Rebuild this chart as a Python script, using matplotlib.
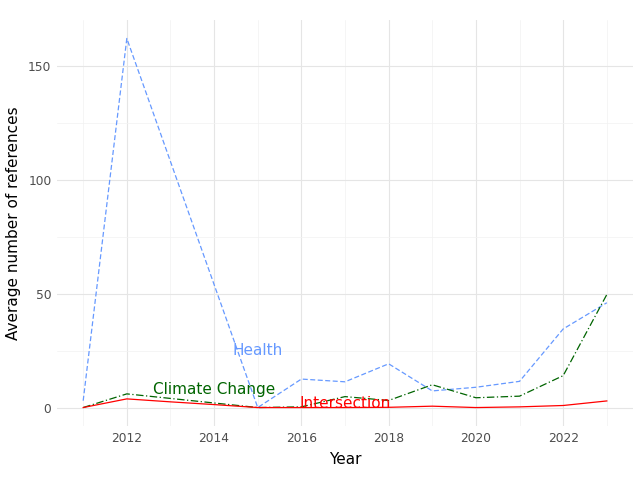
import matplotlib
matplotlib.use("Agg")
import matplotlib.pyplot as plt
from matplotlib.ticker import MultipleLocator

years = [2011, 2012, 2013, 2014, 2015, 2016, 2017, 2018, 2019, 2020, 2021, 2022, 2023]
health = [3.0, 162.0, 108.0, 54.0, 0.0, 12.5, 11.3, 19.2, 7.3, 8.9, 11.5, 34.5, 46.0]
climate = [0.0, 6.0, 4.0, 2.0, 0.0, 0.3, 4.8, 3.1, 10.0, 4.3, 5.0, 14.0, 49.6]
intersection = [0.0, 3.8, 2.5, 1.3, 0.0, 0.0, 0.0, 0.1, 0.6, 0.0, 0.3, 0.9, 2.9]

series_names = ["Health", "Climate Change", "Intersection"]
label_x = [2015.0, 2014.0, 2017.0]
label_y = [25.0, 7.9, 1.8]

colors = ["#6699ff", "#006400", "#ff0000"]
styles = [(0, (4, 2)), (0, (6, 2, 1, 2)), "-"]

fig = plt.figure(figsize=(6.4, 4.8), dpi=100)
ax = fig.add_axes([57/640, 1 - 426/480, (633-57)/640, (426-20)/480])

for vals, c, ls in zip([health, climate, intersection], colors, styles):
    ax.plot(years, vals, color=c, linestyle=ls, linewidth=0.9)

for name, x, y, c in zip(series_names, label_x, label_y, colors):
    ax.text(x, y, name, color=c, fontsize=11, ha="center", va="center")

ax.set_xlim(2010.4, 2023.6)
ax.set_ylim(-8.1, 170.1)
ax.xaxis.set_major_locator(MultipleLocator(2))
ax.xaxis.set_minor_locator(MultipleLocator(1))
ax.yaxis.set_major_locator(MultipleLocator(50))
ax.yaxis.set_minor_locator(MultipleLocator(25))
ax.grid(which="major", color="#e5e5e5", linewidth=0.8)
ax.grid(which="minor", color="#f2f2f2", linewidth=0.5)
ax.set_axisbelow(True)
for s in ax.spines.values():
    s.set_visible(False)
ax.tick_params(which="both", length=0, labelsize=8.8, labelcolor="#4d4d4d", pad=4)
ax.set_xlabel("Year", fontsize=11, labelpad=5)
ax.set_ylabel("Average number of references", fontsize=11, labelpad=5)

fig.savefig("out.png", dpi=100)
